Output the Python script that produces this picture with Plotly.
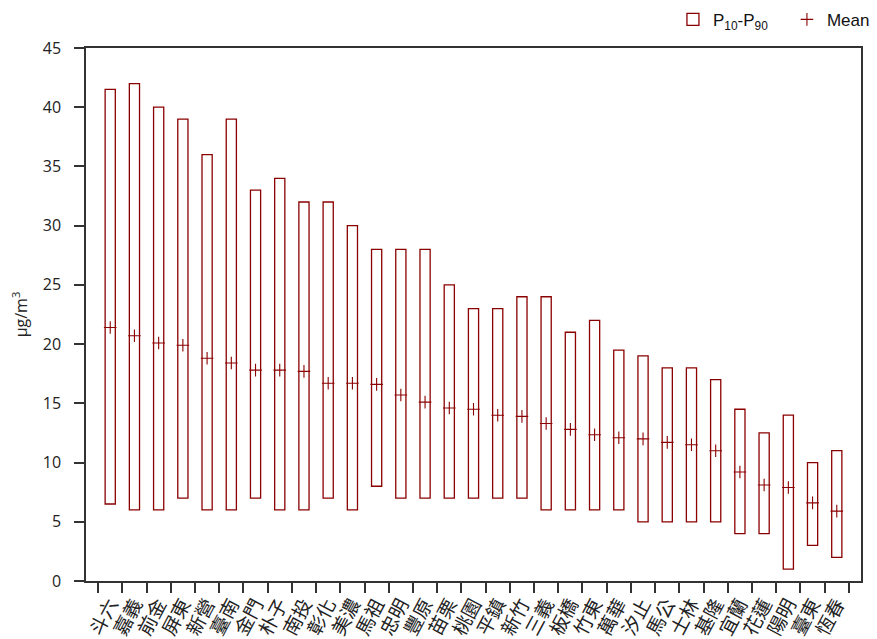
import plotly.graph_objects as go

stations = ['斗六', '嘉義', '前金', '屏東', '新營', '臺南', '金門', '朴子', '南投', '彰化',
            '美濃', '馬祖', '忠明', '豐原', '苗栗', '桃園', '平鎮', '新竹', '三義', '板橋',
            '竹東', '萬華', '汐止', '馬公', '士林', '基隆', '宜蘭', '花蓮', '陽明', '臺東', '恆春']
p10 = [6.5, 6, 6, 7, 6, 6, 7, 6, 6, 7,
       6, 8, 7, 7, 7, 7, 7, 7, 6, 6,
       6, 6, 5, 5, 5, 5, 4, 4, 1, 3, 2]
p90 = [41.5, 42, 40, 39, 36, 39, 33, 34, 32, 32,
       30, 28, 28, 28, 25, 23, 23, 24, 24, 21,
       22, 19.5, 19, 18, 18, 17, 14.5, 12.5, 14, 10, 11]
mean = [21.4, 20.7, 20.1, 19.9, 18.8, 18.4, 17.8, 17.8, 17.7, 16.7,
        16.7, 16.6, 15.7, 15.1, 14.6, 14.5, 14.0, 13.9, 13.3, 12.8,
        12.35, 12.1, 12.0, 11.7, 11.5, 11.0, 9.2, 8.1, 7.9, 6.6, 5.9]

red = '#8b0000'
span = [b - a for a, b in zip(p10, p90)]

fig = go.Figure()
fig.add_trace(go.Bar(x=stations, y=span, base=p10, width=0.42,
                     marker=dict(color='white', line=dict(color=red, width=1.3)),
                     name='P<sub>10</sub>-P<sub>90</sub>&nbsp;&nbsp;&nbsp;'))
fig.add_trace(go.Scatter(x=stations, y=mean, mode='markers', name='Mean',
                         marker=dict(symbol='cross-thin', size=9,
                                     line=dict(color=red, width=1.1), color=red)))

# page body adds an 8px offset, so the figure is sized to fit the window
fig.update_layout(
    width=869, height=631,
    margin=dict(l=78, r=16, t=40, b=58, autoexpand=False),
    plot_bgcolor='white', paper_bgcolor='white',
    font=dict(family='Open Sans, Noto Sans CJK TC, sans-serif', size=15, color='#222'),
    showlegend=True,
    legend=dict(orientation='h', x=1.018, xanchor='right', y=1.019, yanchor='bottom',
                font=dict(family='Liberation Sans, Arial', size=17, color='#111'),
                itemwidth=30),
)
fig.update_xaxes(type='category', range=[-1, 31], tickson='boundaries', ticks='outside',
                 ticklen=10, tickwidth=1.5, tickcolor='#333', tickangle=-62,
                 showline=True, linecolor='#333', linewidth=1.5, mirror=True,
                 showgrid=False, automargin=False, ticklabelstandoff=3,
                 tickfont=dict(family='Noto Sans CJK TC', size=19, color='#222'))
fig.update_yaxes(range=[0, 45], dtick=5, ticks='outside', ticklen=10, tickwidth=1.5,
                 tickcolor='#333', showline=True, linecolor='#333', linewidth=1.5,
                 mirror=True, showgrid=False, zeroline=False, automargin=False,
                 ticklabelstandoff=10, tickfont=dict(size=16),
                 title=dict(text='μg/m<sup>3</sup>', font=dict(size=16), standoff=25))

fig.write_html('out.html')
